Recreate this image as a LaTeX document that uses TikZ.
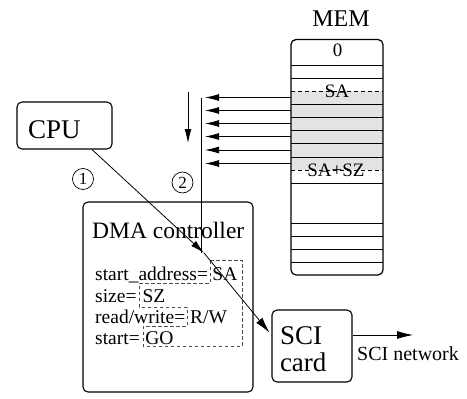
\documentclass[tikz,border=0pt]{standalone}
\usepackage{fontspec}
\setmainfont{Liberation Serif}
\usetikzlibrary{arrows.meta}
\newcommand\setfs[1]{\fontsize{#1}{#1}\selectfont}
\tikzset{
  box/.style={draw, rounded corners=5pt, line width=1.1pt},
  link/.style={line width=0.8pt},
  arr/.style={link, -{Latex[length=14pt,width=7pt]}},
  regline/.style={dash pattern=on 3.5pt off 2.5pt, draw=black!70, line width=0.8pt},
  cell/.style={line width=0.8pt},
  celldash/.style={line width=0.8pt, dash pattern=on 4pt off 3pt},
  txt/.style={inner sep=0pt},
  num/.style={circle, draw, line width=0.7pt, inner sep=0pt, minimum size=21pt, font=\setfs{17}},
}
\begin{document}
\begin{tikzpicture}[x=1pt,y=-1pt]
\useasboundingbox (0,0) rectangle (467,399);

% ---- memory ----
\fill[black!11] (291,91) rectangle (383,170);
\foreach \y in {65,78,104,117,130,143,157,183,223,236,249,262}
  \draw[cell] (291,\y) -- (383,\y);
\foreach \y in {91,170}
  \draw[celldash] (291,\y) -- (383,\y);
\node[box, line width=1.2pt, minimum width=92pt, minimum height=235.5pt] (mem) at (337,157.25) {};
\node[txt, font=\setfs{24}] (memtitle) at (341,18.5) {MEM};
\node[txt, font=\setfs{19}] (zero) at (337.5,50) {0};
\node[txt, font=\setfs{19}] (sa) at (337,91) {SA};
\node[txt, font=\setfs{19}] (sasz) at (336,170) {SA+SZ};

% ---- memory to bus ----
\coordinate (bus) at (201,97.5);
\foreach \y [count=\i] in {97.5,110.5,123.5,136.5,150,163.5} {
  \coordinate (src\i) at (291,\y);
  \coordinate (dst\i) at (205,\y);
  \draw[arr] (src\i) -- (dst\i);
}
\coordinate (flowtop) at (188,92);
\coordinate (flowbot) at (188,143);
\draw[arr] (flowtop) -- (flowbot);

% ---- CPU ----
\node[box, minimum width=95pt, minimum height=47pt, inner xsep=11pt,
      text width=73pt, align=left, text height=25pt, text depth=0pt,
      font=\setfs{27}] (cpu) at (64.5,125.5) {CPU};

% ---- DMA controller ----
\node[box, minimum width=170pt, minimum height=190pt] (dma) at (168,297) {};
\node[txt, anchor=base west, font=\setfs{23.5}] (dmatitle) at (92,238) {DMA controller};
\node[txt, anchor=base west, font=\setfs{19.5}] (r1) at (95,280) {start\_address=\hspace{4.5pt}SA};
\node[txt, anchor=base west, font=\setfs{19.5}] (r2) at (95,302) {size=\hspace{6pt}SZ};
\node[txt, anchor=base west, font=\setfs{19.5}] (r3) at (95,323) {read/write=\hspace{5pt}R/W};
\node[txt, anchor=base west, font=\setfs{19.5}] (r4) at (95,344) {start=\hspace{5.5pt}GO};
\draw[regline] (210,260) -- (242,260) -- (242,346) -- (143,346) -- (143,326)
  -- (187,326) -- (187,307) -- (139,307) -- (139,283) -- (210,283) -- cycle;

% ---- SCI card ----
\node[box, minimum width=80pt, minimum height=72pt, inner xsep=8pt,
      text width=64pt, align=left, text height=25pt,
      font=\fontsize{27}{27}\selectfont] (sci) at (312,346) {SCI\\card};
\coordinate (net) at (413,335);
\draw[arr, -{Latex[length=16pt,width=8pt]}] ([yshift=11pt]sci.east) -- (net);
\node[txt, anchor=base west, font=\setfs{20}] (nettext) at (357,360) {SCI network};

% ---- transfers ----
\coordinate (hub) at (204,253);
\draw[link] (bus) -- (bus |- hub);
\draw[arr] ([xshift=27.5pt]cpu.south) -- (hub);
\draw[arr, -{Latex[length=16pt,width=8pt]}, shorten >=3pt] (hub) -- ([yshift=11pt]sci.west);

% ---- step numbers ----
\node[num] (one) at (83,179) {1};
\node[num] (two) at (182.5,182.5) {2};
\end{tikzpicture}
\end{document}
